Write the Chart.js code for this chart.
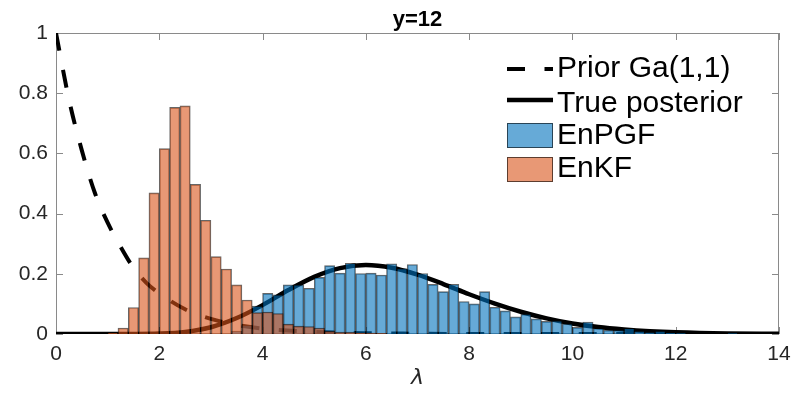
<!DOCTYPE html>
<html>
<head>
<meta charset="utf-8">
<script src="https://cdn.jsdelivr.net/npm/chart.js@4.4.1/dist/chart.umd.min.js"></script>
<style>
  html, body { margin: 0; padding: 0; background: #fff; }
  #wrap { width: 801px; height: 393px; }
</style>
</head>
<body>
<div id="wrap"><canvas id="myChart" width="801" height="393"></canvas></div>
<script>
// histogram bins (width 0.2), heights
const binWidth = 0.2
const enkfStart = 1.0
const enkfHeights = [0.004, 0.020, 0.088, 0.253, 0.469, 0.616, 0.753, 0.758, 0.497, 0.378,
  0.257, 0.216, 0.163, 0.113, 0.071, 0.073, 0.068, 0.033, 0.026, 0.025,
  0.020, 0.010, 0.006, 0.006, 0.004, 0.003, 0.002]

const enpgfStart = 3.4
const enpgfHeights = [0.010, 0.030, 0.093, 0.135, 0.130, 0.163, 0.163, 0.152, 0.188, 0.227,
  0.202, 0.235, 0.201, 0.202, 0.196, 0.233, 0.217, 0.231, 0.201, 0.165,
  0.141, 0.165, 0.108, 0.100, 0.141, 0.089, 0.077, 0.057, 0.066, 0.050,
  0.042, 0.044, 0.034, 0.022, 0.040, 0.019, 0.013, 0.013, 0.019, 0.010,
  0.006, 0.010, 0.004, 0.002, 0, 0, 0, 0, 0.002]

// density curves
const priorX = [0, 0.25, 0.5, 0.75, 1, 1.25, 1.5, 1.75, 2, 2.5, 3, 3.5, 4, 5, 6, 7, 8, 10, 12, 14]
const priorY = [1, 0.78, 0.61, 0.47, 0.37, 0.29, 0.22, 0.17, 0.135, 0.082, 0.05, 0.03, 0.018, 0.007, 0.0025, 0.001, 0, 0, 0, 0]

const postX = [0, 1, 1.5, 2, 2.5, 3, 3.5, 4, 4.5, 5, 5.5, 6, 6.5, 7, 7.5, 8, 8.5, 9, 9.5, 10, 10.5, 11, 11.5, 12, 13, 14]
const postY = [0, 0, 0.0001, 0.0013, 0.0069, 0.0225, 0.053, 0.096, 0.146, 0.19, 0.219, 0.229, 0.22, 0.197, 0.166, 0.132,
  0.101, 0.074, 0.052, 0.035, 0.023, 0.015, 0.0094, 0.0058, 0.002, 0.0007]

const xTicks = [0, 2, 4, 6, 8, 10, 12, 14]
const yTicks = [0, 0.2, 0.4, 0.6, 0.8, 1]
const titleText = 'y=12'

const FONT = '"Liberation Sans", Arial, Helvetica, sans-serif'

toBars = (start, heights) => heights.map((h, i) => ({ x: +(start + (i + 0.5) * binWidth).toFixed(2), y: h }))
toPoints = (xs, ys) => xs.map((v, i) => ({ x: v, y: ys[i] }))

// frame with inward ticks + title, drawn below the data
const framePlugin = {
  id: 'frame',
  beforeDatasetsDraw(chart) {
    const { ctx, chartArea: a, scales } = chart
    ctx.save()
    ctx.strokeStyle = '#8a8a8a'
    ctx.lineWidth = 1
    ctx.strokeRect(a.left + 0.5, a.top + 0.5, a.right - a.left - 1, a.bottom - a.top - 1)
    ctx.beginPath()
    xTicks.forEach(v => {
      const px = Math.round(scales.x.getPixelForValue(v)) + 0.5
      ctx.moveTo(px, a.bottom); ctx.lineTo(px, a.bottom - 7)
      ctx.moveTo(px, a.top); ctx.lineTo(px, a.top + 7)
    })
    yTicks.forEach(v => {
      const py = Math.round(scales.y.getPixelForValue(v)) + 0.5
      ctx.moveTo(a.left, py); ctx.lineTo(a.left + 7, py)
      ctx.moveTo(a.right, py); ctx.lineTo(a.right - 7, py)
    })
    ctx.stroke()

    ctx.fillStyle = '#000'
    ctx.font = 'bold 22px ' + FONT
    ctx.textAlign = 'center'
    ctx.textBaseline = 'alphabetic'
    ctx.fillText(titleText, (a.left + a.right) / 2, 26)
    ctx.restore()
  }
}

// legend inside the axes, upper right, no box
const legendPlugin = {
  id: 'innerLegend',
  afterDraw(chart) {
    const { ctx } = chart
    const x0 = 507, x1 = 553, tx = 557
    const symY = [69, 100, 135, 169]
    const textY = [77, 112, 144, 177]
    ctx.save()
    chart.data.datasets.forEach((ds, i) => {
      if (ds.type === 'line') {
        ctx.strokeStyle = ds.borderColor
        ctx.lineWidth = ds.borderWidth
        ctx.setLineDash(ds.borderDash || [])
        ctx.beginPath()
        ctx.moveTo(x0, symY[i]); ctx.lineTo(x1, symY[i])
        ctx.stroke()
        ctx.setLineDash([])
      } else {
        ctx.fillStyle = ds.backgroundColor
        ctx.fillRect(x0, symY[i] - 12, x1 - x0, 25)
        ctx.strokeStyle = ds.borderColor
        ctx.lineWidth = 1
        ctx.strokeRect(x0 + 0.5, symY[i] - 12 + 0.5, x1 - x0 - 1, 24)
      }
      ctx.fillStyle = '#000'
      ctx.font = '30px ' + FONT
      ctx.textAlign = 'left'
      ctx.textBaseline = 'alphabetic'
      ctx.fillText(ds.label, tx, textY[i])
    })
    ctx.restore()
  }
}

new Chart("myChart", {
  data: {
    datasets: [{
      type: 'line',
      label: 'Prior Ga(1,1)',
      data: toPoints(priorX, priorY),
      borderColor: '#000',
      borderWidth: 4,
      borderDash: [18, 19.5],
      pointRadius: 0,
      cubicInterpolationMode: 'monotone',
      order: 3
    }, {
      type: 'line',
      label: 'True posterior',
      data: toPoints(postX, postY),
      borderColor: '#000',
      borderWidth: 4.5,
      pointRadius: 0,
      cubicInterpolationMode: 'monotone',
      order: 2
    }, {
      type: 'bar',
      label: 'EnPGF',
      data: toBars(enpgfStart, enpgfHeights),
      backgroundColor: 'rgba(0,114,189,0.6)',
      borderColor: 'rgba(0,0,0,0.6)',
      borderWidth: 1,
      grouped: false,
      barPercentage: 1,
      categoryPercentage: 1,
      order: 1
    }, {
      type: 'bar',
      label: 'EnKF',
      data: toBars(enkfStart, enkfHeights),
      backgroundColor: 'rgba(217,83,25,0.6)',
      borderColor: 'rgba(0,0,0,0.6)',
      borderWidth: 1,
      grouped: false,
      barPercentage: 1,
      categoryPercentage: 1,
      order: 0
    }]
  },
  options: {
    responsive: false,
    animation: false,
    layout: { padding: { top: 33, right: 22, left: 0, bottom: 0 } },
    plugins: {
      legend: { display: false },
      tooltip: { enabled: false },
      title: { display: false }
    },
    scales: {
      x: {
        type: 'linear',
        offset: false,
        min: 0,
        max: 14,
        afterFit: (scale) => { scale.height = 59 },
        afterBuildTicks: (scale) => { scale.ticks = xTicks.map(v => ({ value: v })) },
        grid: { display: false, drawTicks: false },
        border: { display: false },
        ticks: { color: '#262626', padding: 8, maxRotation: 0, font: { family: FONT, size: 21 },
          callback: (v) => String(v) },
        title: {
          display: true,
          text: 'λ',
          color: '#262626',
          padding: { top: 0, bottom: 2 },
          font: { family: '"DejaVu Sans", sans-serif', size: 22, style: 'italic' }
        }
      },
      y: {
        type: 'linear',
        min: 0,
        max: 1,
        afterFit: (scale) => { scale.width = 56 },
        afterBuildTicks: (scale) => { scale.ticks = yTicks.map(v => ({ value: v })) },
        grid: { display: false, drawTicks: false },
        border: { display: false },
        ticks: { color: '#262626', padding: 8, font: { family: FONT, size: 21 },
          callback: (v) => String(v) }
      }
    }
  },
  plugins: [framePlugin, legendPlugin]
});
</script>
</body>
</html>
